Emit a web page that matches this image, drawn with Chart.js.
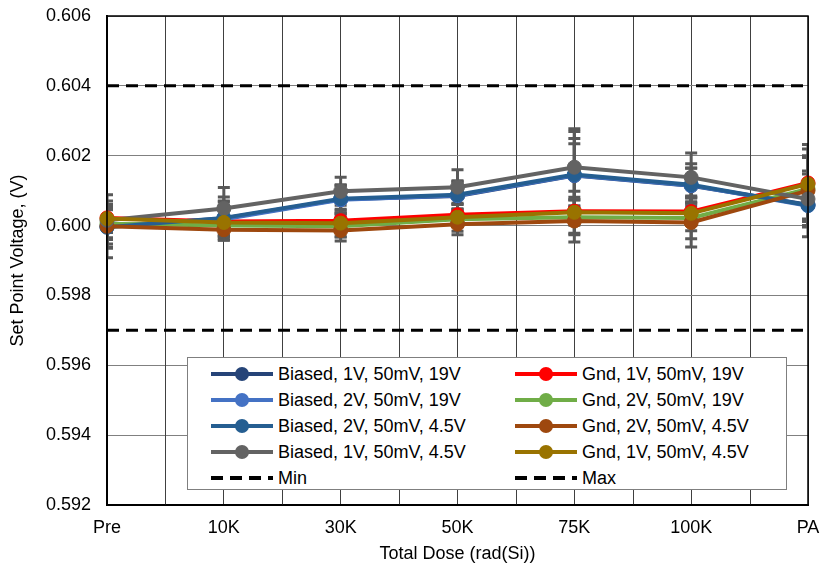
<!DOCTYPE html>
<html lang="en">
<head>
<meta charset="UTF-8">
<title>Set Point Voltage vs Total Dose</title>
<script src="https://cdn.jsdelivr.net/npm/chart.js"></script>
<style>
  body { margin: 0; background: #fff; font-family: "Liberation Sans", Arial, sans-serif; }
  #wrap { position: relative; width: 822px; height: 569px; }
  #chart { position: absolute; left: 0; top: 0; }
  #legend {
    position: absolute; left: 187px; top: 357px; width: 600px; height: 133px;
    box-sizing: border-box; border: 1px solid #7f7f7f; background: #fff;
  }
  .item { position: absolute; height: 22px; font-size: 18px; color: #000; line-height: 22px; white-space: nowrap; }
  .sample { position: absolute; left: 0; top: 9px; width: 62px; height: 4px; }
  .dot { position: absolute; left: 24px; top: -5px; width: 14px; height: 14px; border-radius: 50%; }
  .label { position: absolute; left: 67px; top: 0; }
</style>
</head>
<body>
<div id="wrap">
  <canvas id="chart" width="822" height="569"></canvas>
  <div id="legend"></div>
</div>
<script>
// categories
const doseLabels = ["Pre", "10K", "30K", "50K", "75K", "100K", "PA"];

// mean set point voltage (V)
const biased1v19 = [0.59998, 0.60020, 0.60075, 0.60085, 0.60143, 0.60114, 0.60060];
const biased2v19 = [0.59997, 0.60018, 0.60074, 0.60086, 0.60144, 0.60115, 0.60057];
const biased2v45 = [0.59995, 0.60022, 0.60077, 0.60088, 0.60146, 0.60117, 0.60058];
const biased1v45 = [0.60015, 0.60049, 0.60098, 0.60110, 0.60167, 0.60138, 0.60076];
const gnd1v19 = [0.60022, 0.60012, 0.60014, 0.60031, 0.60041, 0.60040, 0.60122];
const gnd2v19 = [0.60005, 0.60000, 0.59998, 0.60018, 0.60024, 0.60022, 0.60105];
const gnd2v45 = [0.59998, 0.59988, 0.59986, 0.60004, 0.60013, 0.60009, 0.60100];
const gnd1v45 = [0.60020, 0.60009, 0.60007, 0.60024, 0.60038, 0.60035, 0.60119];

// error bar half-widths (V)
const errBiased1v19 = [0.0006, 0.0005, 0.0004, 0.0004, 0.00106, 0.0005, 0.0006];
const errBiased2v19 = [0.0005, 0.0005, 0.0004, 0.0004, 0.0009, 0.0005, 0.0006];
const errBiased2v45 = [0.0006, 0.0006, 0.0004, 0.0004, 0.00123, 0.0006, 0.0009];
const errBiased1v45 = [0.00055, 0.0006, 0.0004, 0.0005, 0.0011, 0.0007, 0.0008];
const errGnd1v19 = [0.0003, 0.0004, 0.0003, 0.0003, 0.0004, 0.0004, 0.0011];
const errGnd2v19 = [0.0004, 0.0003, 0.0003, 0.0002, 0.0005, 0.0006, 0.0009];
const errGnd2v45 = [0.0009, 0.0003, 0.0003, 0.0003, 0.0006, 0.0007, 0.0010];
const errGnd1v45 = [0.0004, 0.0005, 0.0004, 0.0004, 0.0006, 0.0005, 0.0010];

// spec limits
const minLimit = [0.597, 0.597, 0.597, 0.597, 0.597, 0.597, 0.597];
const maxLimit = [0.604, 0.604, 0.604, 0.604, 0.604, 0.604, 0.604];

// y axis
const yMin = 0.592, yMax = 0.606, yStep = 0.002;

// legend order (Excel fills rows left to right)
const series = [
  { label: "Biased, 1V, 50mV, 19V", data: biased1v19, err: errBiased1v19, color: "#264478" },
  { label: "Gnd, 1V, 50mV, 19V", data: gnd1v19, err: errGnd1v19, color: "#FF0000" },
  { label: "Biased, 2V, 50mV, 19V", data: biased2v19, err: errBiased2v19, color: "#4472C4" },
  { label: "Gnd, 2V, 50mV, 19V", data: gnd2v19, err: errGnd2v19, color: "#70AD47" },
  { label: "Biased, 2V, 50mV, 4.5V", data: biased2v45, err: errBiased2v45, color: "#255E91" },
  { label: "Gnd, 2V, 50mV, 4.5V", data: gnd2v45, err: errGnd2v45, color: "#9E480E" },
  { label: "Biased, 1V, 50mV, 4.5V", data: biased1v45, err: errBiased1v45, color: "#636363" },
  { label: "Gnd, 1V, 50mV, 4.5V", data: gnd1v45, err: errGnd1v45, color: "#997300" },
  { label: "Min", data: minLimit, dashed: true, color: "#000000" },
  { label: "Max", data: maxLimit, dashed: true, color: "#000000" }
];

const fontFamily = '"Liberation Sans", Arial, sans-serif';

const datasets = series.map((s, i) => ({
  label: s.label,
  data: s.data,
  errors: s.err,
  borderColor: s.color,
  backgroundColor: s.color,
  borderWidth: s.dashed ? 3 : 4,
  borderDash: s.dashed ? [12, 7] : [],
  pointRadius: s.dashed ? 0 : 7,
  pointBorderWidth: 1,
  pointBorderColor: s.color,
  pointBackgroundColor: s.color,
  tension: 0,
  order: series.length - i
}));

// error bars, mid-category gridlines and plot frame
const extras = {
  id: "extras",
  beforeDatasetsDraw(chart) {
    const { ctx, chartArea: a, scales: { x, y } } = chart;
    ctx.save();
    // vertical lines halfway between categories
    ctx.strokeStyle = "#404040";
    ctx.lineWidth = 1;
    for (let i = 0; i < doseLabels.length - 1; i++) {
      const px = Math.round(x.getPixelForValue(i + 0.5)) + 0.5;
      ctx.beginPath(); ctx.moveTo(px, a.top); ctx.lineTo(px, a.bottom); ctx.stroke();
    }
    // error bars
    ctx.beginPath();
    ctx.rect(a.left, a.top, a.right - a.left, a.bottom - a.top);
    ctx.clip();
    ctx.strokeStyle = "#595959";
    ctx.lineWidth = 3;
    chart.data.datasets.forEach(ds => {
      if (!ds.errors) return;
      ds.data.forEach((v, i) => {
        const px = x.getPixelForValue(i);
        const yt = y.getPixelForValue(v + ds.errors[i]);
        const yb = y.getPixelForValue(v - ds.errors[i]);
        ctx.beginPath();
        ctx.moveTo(px, yt); ctx.lineTo(px, yb);
        ctx.moveTo(px - 6, yt); ctx.lineTo(px + 6, yt);
        ctx.moveTo(px - 6, yb); ctx.lineTo(px + 6, yb);
        ctx.stroke();
      });
    });
    ctx.restore();
  },
  afterDraw(chart) {
    const { ctx, chartArea: a } = chart;
    ctx.save();
    ctx.strokeStyle = "#000";
    ctx.lineWidth = 1.5;
    ctx.strokeRect(a.left, a.top, a.right - a.left, a.bottom - a.top);
    ctx.restore();
  }
};

new Chart(document.getElementById("chart"), {
  type: "line",
  data: { labels: doseLabels, datasets },
  options: {
    responsive: false,
    devicePixelRatio: 1,
    animation: false,
    layout: { padding: { top: 16, right: 14, left: 0, bottom: 0 } },
    plugins: { legend: { display: false }, tooltip: { enabled: false } },
    scales: {
      x: {
        offset: false,
        afterFit: s => { s.height = 64; s.paddingLeft = 0; s.paddingRight = 0; },
        grid: { color: "#404040", lineWidth: 1, drawTicks: false },
        border: { color: "#000", width: 2 },
        ticks: { color: "#000", font: { family: fontFamily, size: 18 }, padding: 12, maxRotation: 0 },
        title: { display: true, text: "Total Dose (rad(Si))", color: "#000",
                 font: { family: fontFamily, size: 18 }, padding: { top: 0, bottom: 4 } }
      },
      y: {
        min: yMin, max: yMax,
        afterFit: s => { s.width = 107; s.paddingTop = 0; s.paddingBottom = 0; },
        grid: { color: "#808080", lineWidth: 1, drawTicks: false },
        border: { color: "#000", width: 2 },
        ticks: { stepSize: yStep, color: "#000", font: { family: fontFamily, size: 18 }, padding: 16,
                 callback: v => Number(v).toFixed(3) },
        title: { display: true, text: "Set Point Voltage, (V)", color: "#000",
                 font: { family: fontFamily, size: 18 }, padding: { top: 7, bottom: 0 } }
      }
    }
  },
  plugins: [extras]
});

// legend built from the same series list
const legend = document.getElementById("legend");
series.forEach((s, i) => {
  const col = i % 2, row = Math.floor(i / 2);
  const item = document.createElement("div");
  item.className = "item";
  item.style.left = (col === 0 ? 23 : 327) + "px";
  item.style.top = (5 + row * 26) + "px";
  const sample = document.createElement("div");
  sample.className = "sample";
  if (s.dashed) {
    sample.style.background = "repeating-linear-gradient(to right, #000 0 12px, transparent 12px 19px)";
  } else {
    sample.style.background = s.color;
    const dot = document.createElement("div");
    dot.className = "dot";
    dot.style.background = s.color;
    sample.appendChild(dot);
  }
  const text = document.createElement("span");
  text.className = "label";
  text.textContent = s.label;
  item.appendChild(sample);
  item.appendChild(text);
  legend.appendChild(item);
});
</script>
</body>
</html>
